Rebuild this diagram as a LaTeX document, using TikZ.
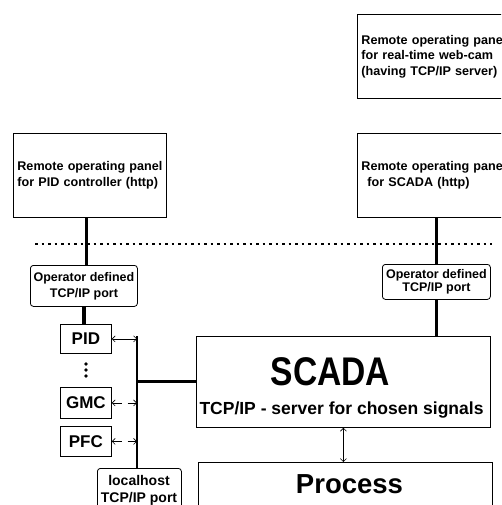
\documentclass[tikz,border=0pt]{standalone}
\usepackage{fontspec}
\setmainfont{Liberation Sans}
\usetikzlibrary{arrows.meta}

\newcommand{\sizedfont}[2]{\fontsize{#1}{#2}\selectfont\bfseries}

\begin{document}
\begin{tikzpicture}[x=1pt,y=-1pt,
		box/.style={draw,line width=0.8pt,inner sep=0pt,anchor=north west},
		panel/.style={box,inner xsep=4pt,align=left,minimum height=84pt,font=\sizedfont{12.6}{15.5}},
		port/.style={box,rounded corners=3pt,align=center,font=\sizedfont{12.5}{16}},
		ctrl/.style={box,minimum width=51pt,font=\sizedfont{17}{20}},
		link/.style={line width=3.5pt},
		sig/.style={line width=0.6pt,{Straight Barb[length=3pt,width=6pt]}-{Straight Barb[length=3pt,width=6pt]}}]
		\useasboundingbox (0,0) rectangle (501,505);
		\clip (0,0) rectangle (501,505);
		% remote panels
		\node[panel,text width=162pt] (campanel) at (357,14) {Remote operating panel\\for real-time web-cam\\(having TCP/IP server)};
		\node[panel,text width=145pt] (pidpanel) at (13,133) {Remote operating panel\\for PID controller (http)};
		\node[panel,text width=162pt] (scadapanel) at (357,133) {Remote operating panel\\\hspace*{6pt}for SCADA (http)};
		% network border
		\draw[line width=2.6pt,dash pattern=on 2.6pt off 3.9pt] (35,244) -- (492,244);
		% ports
		\node[port,minimum width=107pt,minimum height=41pt] (lport) at (30,265) {Operator defined\\TCP/IP port};
		\node[port,minimum width=108pt,minimum height=35pt,font=\sizedfont{12.5}{12.5}] (rport) at (382,264) {Operator defined\\TCP/IP port};
		% controllers
		\node[ctrl,minimum height=29pt] (pid) at (60,324) {PID};
		\node[ctrl,minimum height=31pt] (gmc) at (60,387) {GMC};
		\node[ctrl,minimum height=30pt] (pfc) at (60,426) {PFC};
		\foreach \y in {364,370,376} \fill (86,\y) circle (1.8pt);
		% SCADA and process
		\node[box,minimum width=294pt,minimum height=91pt] (scada) at (196,336) {};
		\node[anchor=base,inner sep=0pt,font=\sizedfont{40}{40}] (scadatitle) at (330.5,385) {\scalebox{0.84}[1]{SCADA}};
		\node[anchor=base,inner sep=0pt,font=\sizedfont{17.5}{20}] (scadasub) at (341.5,414) {TCP/IP - server for chosen signals};
		\node[box,minimum width=294pt,minimum height=80pt] (process) at (198,462) {};
		\node[anchor=base,inner sep=0pt,font=\sizedfont{27.5}{30}] (processtitle) at (349.5,493) {Process};
		\node[box,rounded corners=3pt,minimum width=84pt,minimum height=60pt] (lhost) at (97,468) {};
		\node[anchor=north,inner sep=0pt,align=center,font=\sizedfont{14}{17}] (lhosttext) at (139,475) {localhost\\TCP/IP port};
		% bus
		\coordinate (bustop) at (137,336);
		\draw[line width=2pt] (bustop) -- (bustop |- lhost.north);
		% connections
		\draw[link] ([xshift=-3.5pt]pidpanel.south) -- ([xshift=2.5pt]lport.north);
		\draw[link] (lport.south) -- (lport.south |- pid.north);
		\draw[link] (rport.north |- scadapanel.south) -- (rport.north);
		\draw[link] (rport.south) -- (rport.south |- scada.north);
		\draw[link,line width=3pt] (scada.west) -- (scada.west -| bustop);
		\draw[sig] (pid.east) -- (pid.east -| bustop);
		\draw[sig,dash pattern=on 9pt off 6pt on 20pt] (gmc.east) -- (gmc.east -| bustop);
		\draw[sig,dash pattern=on 9pt off 6pt on 20pt] (pfc.east) -- (pfc.east -| bustop);
		\draw[sig] (scada.south) -- (scada.south |- process.north);
	\end{tikzpicture}
\end{document}
